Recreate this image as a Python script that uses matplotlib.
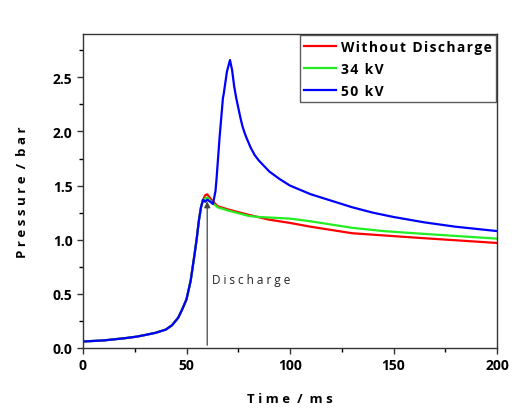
import matplotlib
matplotlib.use("Agg")
import matplotlib.pyplot as plt

# ---------------------------
# Data
# ---------------------------
t_rise = [0, 10, 20, 26, 30, 35, 40, 43, 46, 48, 50, 52, 54, 55, 56, 57, 58]
p_rise = [0.06, 0.07, 0.09, 0.105, 0.12, 0.14, 0.17, 0.21, 0.28, 0.36, 0.45,
          0.62, 0.88, 1.02, 1.18, 1.30, 1.37]

t_red = [59, 60, 62, 65, 70, 80, 90, 100, 110, 120, 130, 145, 160, 180, 200]
p_red = [1.41, 1.42, 1.37, 1.31, 1.28, 1.23, 1.185, 1.155, 1.12, 1.09, 1.06,
         1.04, 1.02, 0.995, 0.97]

t_green = [59, 60, 62, 65, 70, 80, 85, 90, 100, 110, 120, 130, 145, 160, 180,
           200]
p_green = [1.38, 1.39, 1.35, 1.30, 1.27, 1.22, 1.21, 1.205, 1.195, 1.17, 1.14,
           1.11, 1.08, 1.06, 1.035, 1.01]

t_blue = [59, 60, 61.5, 62.8, 64, 64.5, 66, 67.6, 68, 69.5, 71, 72, 73, 74,
          75, 76, 77, 78, 79, 81, 83, 85, 87, 90, 95, 100, 105, 110, 120, 130,
          140, 150, 165, 180, 200]
p_blue = [1.35, 1.37, 1.35, 1.33, 1.45, 1.56, 1.95, 2.31, 2.35, 2.55, 2.66,
          2.57, 2.42, 2.31, 2.22, 2.13, 2.05, 1.99, 1.94, 1.85, 1.78, 1.73,
          1.69, 1.63, 1.56, 1.50, 1.46, 1.42, 1.36, 1.30, 1.25, 1.21, 1.16,
          1.12, 1.08]

labels = ["Without Discharge", "34 kV", "50 kV"]
colors = ["#ff0000", "#22ee22", "#0000ff"]

t_discharge = 60
p_discharge = 1.38


def spaced(s):
    # letter spacing like the original figure
    return "\u200a".join(s)


plt.rcParams['font.family'] = ['Open Sans', 'DejaVu Sans']

fig = plt.figure(figsize=(5.21, 4.10), dpi=100)
ax = fig.add_axes([0.1593, 0.1488, 0.7947, 0.7658])

series = [(t_red, p_red), (t_green, p_green), (t_blue, p_blue)]
for (ts, ps), lab, col in zip(series, labels, colors):
    ax.plot(t_rise + ts, p_rise + ps, color=col, lw=1.6, label=spaced(lab))

# Discharge arrow
ax.annotate("", xy=(t_discharge, p_discharge), xytext=(t_discharge, 0),
            arrowprops=dict(arrowstyle="-|>", color="#444444", lw=0.9,
                            mutation_scale=9))
ax.text(t_discharge + 2.5, 0.63, "D i s c h a r g e", fontsize=8.5,
        color="#222222", va="center")

ax.set_xlim(0, 200)
ax.set_ylim(0, 2.9)
ax.set_xticks([0, 50, 100, 150, 200])
ax.set_xticks([25, 75, 125, 175], minor=True)
ax.set_yticks([0.0, 0.5, 1.0, 1.5, 2.0, 2.5])
ax.set_yticks([0.25, 0.75, 1.25, 1.75, 2.25, 2.75], minor=True)
ax.yaxis.set_major_formatter(matplotlib.ticker.FormatStrFormatter("%.1f"))

for s in ax.spines.values():
    s.set_color("#333333")
    s.set_linewidth(1.0)
ax.tick_params(direction="out", length=4, width=1, colors="#333333",
               labelcolor="black", labelsize=10)
ax.tick_params(which="minor", direction="out", length=3, width=1)
for lbl in ax.get_xticklabels() + ax.get_yticklabels():
    lbl.set_fontweight("bold")

ax.set_xlabel("T i m e  /  m s", fontweight="bold", fontsize=9.5, labelpad=14)
ax.set_ylabel("P r e s s u r e  /  b a r", fontweight="bold", fontsize=9.5,
              labelpad=17)

leg = ax.legend(loc="upper right", borderaxespad=0.1, frameon=True,
                fancybox=False, edgecolor="#333333", handlelength=2.3,
                handletextpad=0.3, labelspacing=0.6, borderpad=0.3,
                prop={"weight": "bold", "size": 10})
leg.get_frame().set_linewidth(1.0)

fig.savefig("out.png", dpi=100)
